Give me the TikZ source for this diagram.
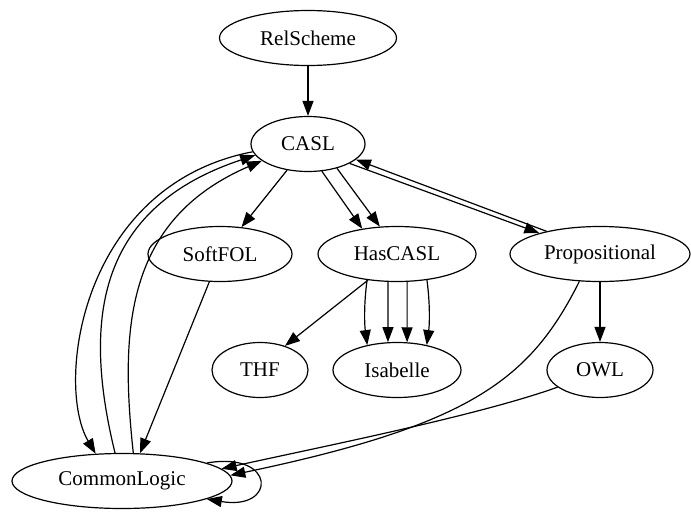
\documentclass[tikz,border=0pt]{standalone}
\usepackage{fontspec}
\setmainfont{Liberation Serif}
\usetikzlibrary{shapes.geometric, arrows.meta}

\begin{document}
\begin{tikzpicture}[x=1pt, y=-1pt, font=\fontsize{21}{25}\selectfont,
    logic/.style={ellipse, draw, line width=1.2pt, minimum height=55pt, inner sep=0pt},
    edge/.style={line width=1.2pt, -{Triangle[length=15pt,width=11pt]}}]
    % Define the canvas
    \useasboundingbox (0,0) rectangle (691,512);
    % logics
    \node[logic, minimum width=177pt] (RelScheme) at (308,38) {RelScheme};
    \node[logic, minimum width=114pt] (CASL) at (308,144) {CASL};
    \node[logic, minimum width=144pt] (SoftFOL) at (220,254) {SoftFOL};
    \node[logic, minimum width=158pt] (HasCASL) at (397,254) {HasCASL};
    \node[logic, minimum width=180pt] (Propositional) at (600,254) {Propositional};
    \node[logic, minimum width=96pt] (THF) at (260,370) {THF};
    \node[logic, minimum width=128pt] (Isabelle) at (397,370) {Isabelle};
    \node[logic, minimum width=106pt] (OWL) at (600,370) {OWL};
    \node[logic, minimum width=220pt] (CommonLogic) at (122,481) {CommonLogic};
    % comorphisms
    \draw[edge] (RelScheme) -- (CASL);
    \draw[edge] (CASL) -- (SoftFOL);
    \draw[edge] (CASL.-63) -- (HasCASL.144);
    \draw[edge] (CASL.-40) -- (HasCASL.122);
    \draw[edge] (CASL.-25) -- (Propositional.161);
    \draw[edge] (Propositional.157) -- (CASL.-18);
    \draw[edge] (CASL.-172) .. controls (80,185) and (55,385) .. (CommonLogic.134);
    \draw[edge] (CommonLogic.104) .. controls (85,330) and (90,210) .. (CASL.-168);
    \draw[edge] (CommonLogic.68) .. controls (120,330) and (125,220) .. (CASL.-160);
    \draw[edge] (SoftFOL.-111) -- (CommonLogic.57);
    \draw[edge] (HasCASL.-138) -- (THF.44);
    \draw[edge] (HasCASL.-139) .. controls +(-3,22) and +(-3,-22) .. (Isabelle.140);
    \draw[edge] (HasCASL.-108) -- (Isabelle.108);
    \draw[edge] (HasCASL.-70) -- (Isabelle.70);
    \draw[edge] (HasCASL.-41) .. controls +(3,22) and +(3,-22) .. (Isabelle.40);
    \draw[edge] (Propositional) -- (OWL);
    \draw[edge] (Propositional.-127) .. controls (530,380) and (470,425) .. (CommonLogic.3);
    \draw[edge] (OWL.202) .. controls (480,415) and (330,445) .. (CommonLogic.7);
    % loop
    \draw[edge] (CommonLogic.12) .. controls +(70,-12) and +(70,12) .. (CommonLogic.-12);
\end{tikzpicture}
\end{document}
